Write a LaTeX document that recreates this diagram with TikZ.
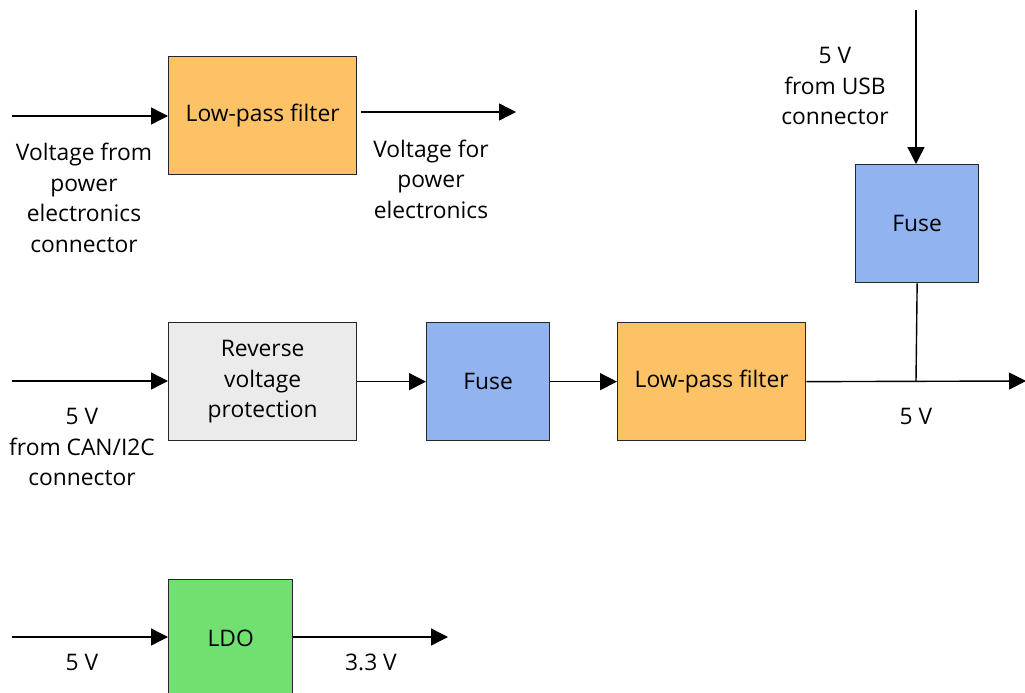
\documentclass[tikz,border=0pt]{standalone}
\usepackage{fontspec}
\setmainfont{Open Sans}
\usetikzlibrary{arrows.meta, positioning}

\definecolor{filterorange}{HTML}{FDC166}
\definecolor{fuseblue}{HTML}{91B3F0}
\definecolor{protectgrey}{HTML}{EBEBEB}
\definecolor{ldogreen}{HTML}{71E071}

\begin{document}
\begin{tikzpicture}[
        x=1pt, y=-1pt, line width=1.4pt,
        block/.style={draw=black!85, line width=1.3pt, anchor=north west, inner sep=0pt,
            align=center, font=\fontsize{22.8}{30.5}\selectfont},
        lbl/.style={align=center, inner sep=0pt, font=\fontsize{22.8}{30.5}\selectfont},
        arr/.style={-{Triangle[length=17pt, width=17pt]}}
    ]
    \useasboundingbox (0,0) rectangle (1025,693);
    \clip (0,0) rectangle (1025,693);
    % Define blocks
    \node[block, fill=filterorange, minimum width=188pt, minimum height=118pt] (lpfA) at (168,56) {Low-pass filter};
    \node[block, fill=fuseblue, minimum width=123pt, minimum height=118pt] (fuseUSB) at (855,164) {Fuse};
    \node[block, fill=protectgrey, minimum width=188pt, minimum height=118pt] (rev) at (168,322) {Reverse\\voltage\\protection};
    \node[block, fill=fuseblue, minimum width=123pt, minimum height=118pt] (fuseCAN) at (426,322) {Fuse};
    \node[block, fill=filterorange, minimum width=188pt, minimum height=118pt] (lpfB) at (617,322) {Low-pass filter};
    \node[block, fill=ldogreen, minimum width=124pt, minimum height=118pt] (ldo) at (168,579) {LDO};
    % Free ends
    \coordinate (pwrIn) at (12,116);
    \coordinate (pwrOutA) at (361,112);
    \coordinate (pwrOutB) at (516,112);
    \coordinate (usbIn) at (916,10);
    \coordinate (canIn) at (12,381);
    \coordinate (join) at (916,381);
    \coordinate (railOut) at (1026,381);
    \coordinate (ldoIn) at (12,637);
    \coordinate (ldoOut) at (448,637);
    % Labels
    \node[lbl] (pwrInLbl) at (84,198) {Voltage from\\power\\electronics\\connector};
    \node[lbl] (pwrOutLbl) at (431,179) {Voltage for\\power\\electronics};
    \node[lbl] (usbLbl) at (835,86) {5 V\\from USB\\connector};
    \node[lbl] (canLbl) at (82,447) {5 V\\from CAN/I2C\\connector};
    \node[lbl] (railLbl) at (916,416) {5 V};
    \node[lbl] (ldoInLbl) at (82,662) {5 V};
    \node[lbl] (ldoOutLbl) at (371,662) {3.3 V};
    % Draw edges
    \draw[arr] (pwrIn) -- (pwrIn -| lpfA.west);
    \draw[arr] (pwrOutA) -- (pwrOutB);
    \draw[arr] (usbIn) -- (usbIn |- fuseUSB.north);
    \draw (fuseUSB.south) -- (join);
    \draw[arr] (canIn) -- (canIn -| rev.west);
    \draw[arr] (rev.east) -- (fuseCAN.west);
    \draw[arr] (fuseCAN.east) -- (lpfB.west);
    \draw[arr] (lpfB.east) -- (railOut);
    \draw[arr] (ldoIn) -- (ldoIn -| ldo.west);
    \draw[arr] (ldoIn -| ldo.east) -- (ldoOut);
\end{tikzpicture}
\end{document}
